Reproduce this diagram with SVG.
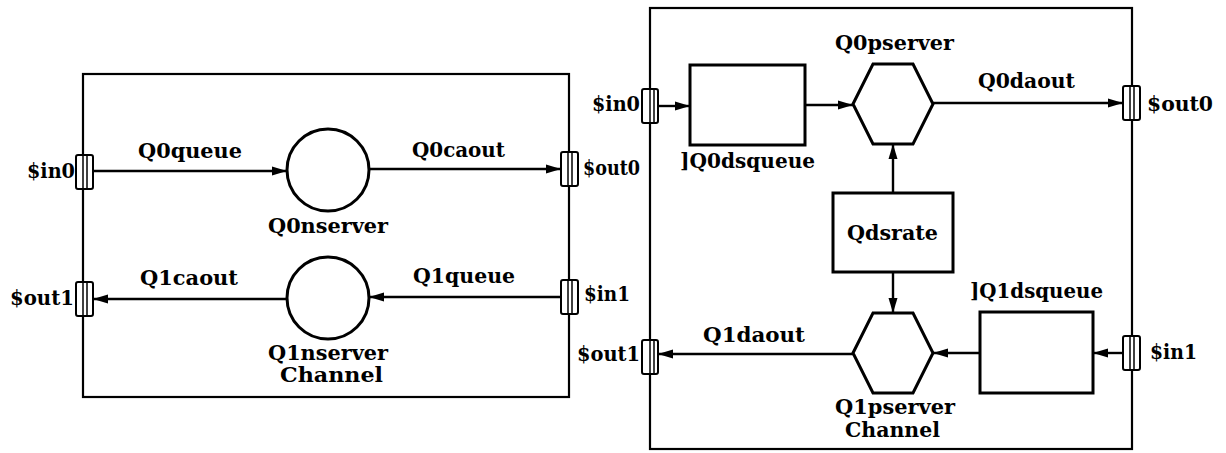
<svg xmlns="http://www.w3.org/2000/svg" width="1226" height="453" viewBox="0 0 1226 453">
<defs>
<marker id="arr" markerUnits="userSpaceOnUse" markerWidth="16" markerHeight="12" refX="15" refY="6" orient="auto">
<path d="M0,1.5 L15,6 L0,10.5 z" fill="#000"/>
</marker>
<style>
.frame{fill:none;stroke:#000;stroke-width:2.2}
.port{fill:#fff;stroke:#000;stroke-width:2}
.pl{stroke:#000;stroke-width:1.5}
.node{fill:#fff;stroke:#000;stroke-width:3}
.edge{fill:none;stroke:#000;stroke-width:2.4;marker-end:url(#arr)}
text{font-family:"DejaVu Serif","Liberation Serif",serif;font-weight:bold;font-size:20px;fill:#000}
</style>
</defs>
<rect width="1226" height="453" fill="#fff"/>

<!-- Left channel -->
<g id="channel-left">
<rect class="frame" x="83" y="74" width="486" height="323"/>
<text x="280" y="382" textLength="103" lengthAdjust="spacingAndGlyphs">Channel</text>
</g>
<g id="left-Q0nserver">
<circle class="node" cx="328" cy="170" r="41"/>
<text x="268" y="233" textLength="120" lengthAdjust="spacingAndGlyphs">Q0nserver</text>
</g>
<g id="left-Q1nserver">
<circle class="node" cx="328" cy="298" r="41"/>
<text x="268" y="360" textLength="120" lengthAdjust="spacingAndGlyphs">Q1nserver</text>
</g>
<g id="left-in0">
<rect class="port" x="76" y="155" width="17" height="34" rx="2"/>
<line class="pl" x1="83" y1="155" x2="83" y2="189"/><line class="pl" x1="87" y1="155" x2="87" y2="189"/>
<text x="27" y="178" textLength="48" lengthAdjust="spacingAndGlyphs">$in0</text>
</g>
<g id="left-out0">
<rect class="port" x="561" y="152" width="17" height="34" rx="2"/>
<line class="pl" x1="568" y1="152" x2="568" y2="186"/><line class="pl" x1="572" y1="152" x2="572" y2="186"/>
<text x="583" y="175" textLength="57" lengthAdjust="spacingAndGlyphs">$out0</text>
</g>
<g id="left-in1">
<rect class="port" x="561" y="280" width="17" height="34" rx="2"/>
<line class="pl" x1="568" y1="280" x2="568" y2="314"/><line class="pl" x1="572" y1="280" x2="572" y2="314"/>
<text x="584" y="301" textLength="46" lengthAdjust="spacingAndGlyphs">$in1</text>
</g>
<g id="left-out1">
<rect class="port" x="76" y="282" width="17" height="34" rx="2"/>
<line class="pl" x1="83" y1="282" x2="83" y2="316"/><line class="pl" x1="87" y1="282" x2="87" y2="316"/>
<text x="10" y="305" textLength="64" lengthAdjust="spacingAndGlyphs">$out1</text>
</g>

<!-- Right channel -->
<g id="channel-right">
<rect class="frame" x="650" y="8" width="482" height="441"/>
<text x="845" y="437" textLength="95" lengthAdjust="spacingAndGlyphs">Channel</text>
</g>
<g id="right-Q0dsqueue">
<rect class="node" x="690" y="65" width="115" height="80"/>
<text x="680" y="168" textLength="135" lengthAdjust="spacingAndGlyphs">]Q0dsqueue</text>
</g>
<g id="right-Q0pserver">
<polygon class="node" points="853,104 873,64 913,64 933,104 913,144 873,144"/>
<text x="835" y="50" textLength="119" lengthAdjust="spacingAndGlyphs">Q0pserver</text>
</g>
<g id="right-Qdsrate">
<rect class="node" x="833" y="193" width="120" height="79"/>
<text x="847" y="240" textLength="91" lengthAdjust="spacingAndGlyphs">Qdsrate</text>
</g>
<g id="right-Q1pserver">
<polygon class="node" points="853,353 873,313 913,313 933,353 913,393 873,393"/>
<text x="835" y="414" textLength="120" lengthAdjust="spacingAndGlyphs">Q1pserver</text>
</g>
<g id="right-Q1dsqueue">
<rect class="node" x="980" y="312" width="113" height="81"/>
<text x="970" y="298" textLength="133" lengthAdjust="spacingAndGlyphs">]Q1dsqueue</text>
</g>
<g id="right-in0">
<rect class="port" x="642" y="89" width="16" height="34" rx="2"/>
<line class="pl" x1="650" y1="89" x2="650" y2="123"/><line class="pl" x1="654" y1="89" x2="654" y2="123"/>
<text x="592" y="111" textLength="48" lengthAdjust="spacingAndGlyphs">$in0</text>
</g>
<g id="right-out0">
<rect class="port" x="1123" y="86" width="17" height="34" rx="2"/>
<line class="pl" x1="1130" y1="86" x2="1130" y2="120"/><line class="pl" x1="1134" y1="86" x2="1134" y2="120"/>
<text x="1147" y="111" textLength="66" lengthAdjust="spacingAndGlyphs">$out0</text>
</g>
<g id="right-in1">
<rect class="port" x="1123" y="336" width="17" height="34" rx="2"/>
<line class="pl" x1="1130" y1="336" x2="1130" y2="370"/><line class="pl" x1="1134" y1="336" x2="1134" y2="370"/>
<text x="1150" y="359" textLength="47" lengthAdjust="spacingAndGlyphs">$in1</text>
</g>
<g id="right-out1">
<rect class="port" x="642" y="340" width="16" height="34" rx="2"/>
<line class="pl" x1="650" y1="340" x2="650" y2="374"/><line class="pl" x1="654" y1="340" x2="654" y2="374"/>
<text x="577" y="361" textLength="63" lengthAdjust="spacingAndGlyphs">$out1</text>
</g>

<!-- Connectors -->
<g id="connectors">
<line class="edge" x1="93" y1="171" x2="287" y2="171"/>
<line class="edge" x1="369" y1="169" x2="561" y2="169"/>
<line class="edge" x1="561" y1="297" x2="369" y2="297"/>
<line class="edge" x1="287" y1="299" x2="93" y2="299"/>
<line class="edge" x1="658" y1="106" x2="690" y2="106"/>
<line class="edge" x1="805" y1="105" x2="853" y2="105"/>
<line class="edge" x1="933" y1="103" x2="1123" y2="103"/>
<line class="edge" x1="893" y1="193" x2="893" y2="144"/>
<line class="edge" x1="893" y1="272" x2="893" y2="313"/>
<line class="edge" x1="1123" y1="353" x2="1093" y2="353"/>
<line class="edge" x1="980" y1="353" x2="933" y2="353"/>
<line class="edge" x1="853" y1="354" x2="658" y2="354"/>
<text x="138" y="158" textLength="104" lengthAdjust="spacingAndGlyphs">Q0queue</text>
<text x="412" y="157" textLength="93" lengthAdjust="spacingAndGlyphs">Q0caout</text>
<text x="413" y="283" textLength="102" lengthAdjust="spacingAndGlyphs">Q1queue</text>
<text x="140" y="285" textLength="98" lengthAdjust="spacingAndGlyphs">Q1caout</text>
<text x="978" y="88" textLength="97" lengthAdjust="spacingAndGlyphs">Q0daout</text>
<text x="703" y="342" textLength="102" lengthAdjust="spacingAndGlyphs">Q1daout</text>
</g>
</svg>
